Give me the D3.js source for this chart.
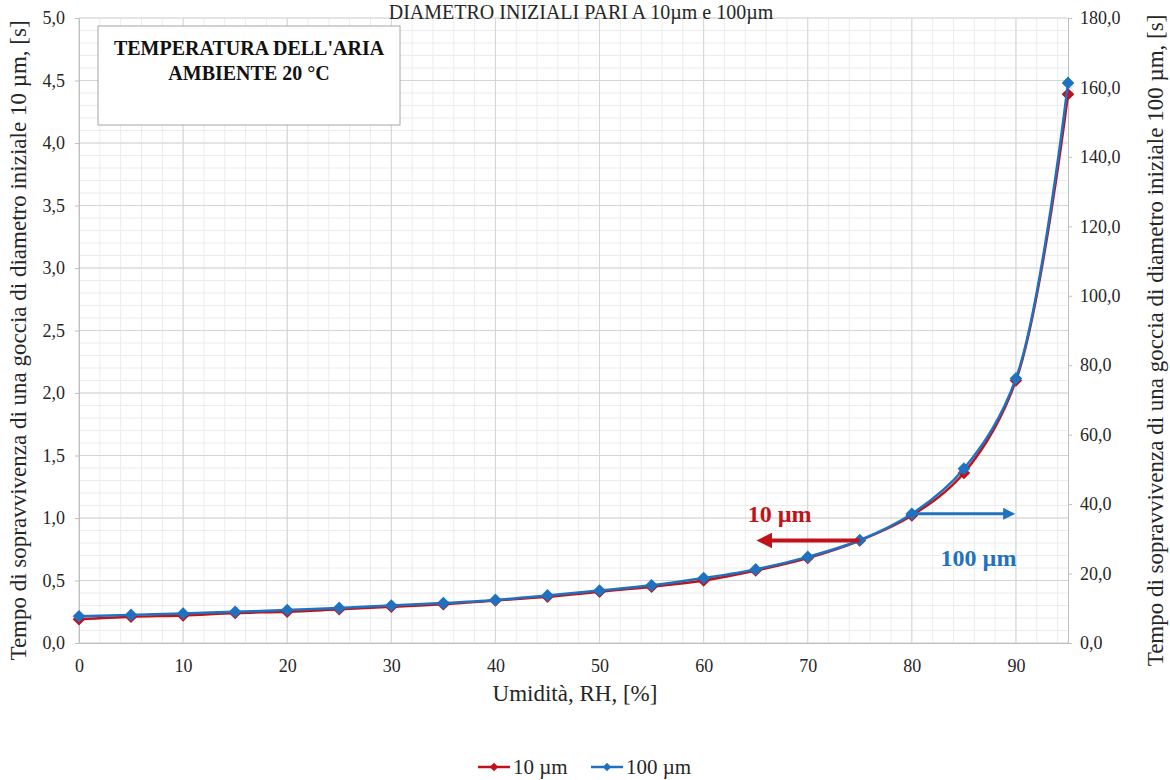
<!DOCTYPE html>
<html><head><meta charset="utf-8">
<script src="https://cdn.jsdelivr.net/npm/d3@7"></script>
<style>html,body{margin:0;padding:0;background:#fff;} svg{display:block;} svg text{font-family:"Liberation Serif","Times New Roman",serif;}</style>
</head><body>
<svg id="c" width="1170" height="780"></svg>
<script>
const rh = [0,5,10,15,20,25,30,35,40,45,50,55,60,65,70,75,80,85,90,95];
const t10 = [0.19,0.21,0.22,0.24,0.25,0.27,0.29,0.31,0.34,0.37,0.41,0.45,0.50,0.58,0.68,0.82,1.02,1.36,2.10,4.39];
const t100 = [7.7,8.1,8.5,9.0,9.5,10.1,10.8,11.5,12.4,13.7,15.1,16.6,18.7,21.2,24.8,29.6,37.2,50.2,76.2,161.3];
const xTicks = [0,10,20,30,40,50,60,70,80,90];
const yLeftTicks = [0,0.5,1,1.5,2,2.5,3,3.5,4,4.5,5];
const yRightTicks = [0,20,40,60,80,100,120,140,160,180];
const seriesNames = ["10 µm","100 µm"];
const colors = ["#c0121b","#1f72bf"];

const svg = d3.select("#c");
const L=79, R=1068, T=18, B=643;
const x = d3.scaleLinear().domain([0,95]).range([L,R]);
const yL = d3.scaleLinear().domain([0,5]).range([B,T]);
const yR = d3.scaleLinear().domain([0,180]).range([B,T]);
const fmt = d => d3.format(".1f")(d).replace(".",",");
const txtCol = "#262626";

// minor grid
const g = svg.append("g");
d3.range(0,95.001,2).forEach(v=>{ g.append("line").attr("x1",x(v)).attr("x2",x(v)).attr("y1",T).attr("y2",B).attr("stroke","#ececec").attr("stroke-width",1); });
d3.range(0,5.001,0.1).forEach(v=>{ g.append("line").attr("x1",L).attr("x2",R).attr("y1",yL(v)).attr("y2",yL(v)).attr("stroke","#ececec").attr("stroke-width",1); });
// major grid
xTicks.forEach(v=>{ g.append("line").attr("x1",x(v)).attr("x2",x(v)).attr("y1",T).attr("y2",B).attr("stroke","#d4d4d4").attr("stroke-width",1); });
yLeftTicks.forEach(v=>{ g.append("line").attr("x1",L).attr("x2",R).attr("y1",yL(v)).attr("y2",yL(v)).attr("stroke","#d4d4d4").attr("stroke-width",1); });

// title (top of it is clipped in the reference; shown fully here)
svg.append("text").attr("x",581).attr("y",19).attr("text-anchor","middle")
  .attr("font-size",20).attr("fill",txtCol).text("DIAMETRO INIZIALI PARI A 10µm e 100µm");

// axes
const axB = d3.axisBottom(x).tickValues(xTicks).tickSize(0).tickPadding(16);
const axL = d3.axisLeft(yL).tickValues(yLeftTicks).tickFormat(fmt).tickSize(4).tickPadding(10);
const axR = d3.axisRight(yR).tickValues(yRightTicks).tickFormat(fmt).tickSize(4).tickPadding(8);
function style(sel){ sel.attr("font-family",null).attr("font-size",null);
  sel.select(".domain").attr("stroke","#bfbfbf");
  sel.selectAll(".tick line").attr("stroke","#bfbfbf");
  sel.selectAll("text").style("font-family","'Liberation Serif',serif").style("font-size","18px").attr("fill",txtCol); }
svg.append("g").attr("transform",`translate(0,${B})`).call(axB).call(style);
svg.append("g").attr("transform",`translate(${L},0)`).call(axL).call(style);
svg.append("g").attr("transform",`translate(${R},0)`).call(axR).call(style);

// axis titles
svg.append("text").attr("x",575).attr("y",701).attr("text-anchor","middle").attr("font-size",23).attr("fill",txtCol).text("Umidità, RH, [%]");
svg.append("text").attr("transform",`translate(26,${(T+B)/2+10}) rotate(-90)`).attr("text-anchor","middle").attr("font-size",23).attr("fill",txtCol)
  .text("Tempo di sopravvivenza di una goccia di diametro iniziale 10 µm, [s]");
svg.append("text").attr("transform",`translate(1163,${(T+B)/2+10}) rotate(-90)`).attr("text-anchor","middle").attr("font-size",23).attr("fill",txtCol)
  .text("Tempo di sopravvivenza di una goccia di diametro iniziale 100 µm, [s]");

// text box
svg.append("rect").attr("x",98).attr("y",26).attr("width",302).attr("height",99).attr("fill","#fff").attr("stroke","#a6a6a6").attr("stroke-width",1);
svg.append("text").attr("x",249).attr("y",55).attr("text-anchor","middle").attr("font-size",20).attr("font-weight","bold").attr("fill","#111").text("TEMPERATURA DELL'ARIA");
svg.append("text").attr("x",249).attr("y",80).attr("text-anchor","middle").attr("font-size",20).attr("font-weight","bold").attr("fill","#111").text("AMBIENTE 20 °C");

// series
const d1 = rh.map((v,i)=>[x(v),yL(t10[i])]);
const d2 = rh.map((v,i)=>[x(v),yR(t100[i])]);
const line = d3.line().curve(d3.curveCatmullRom.alpha(0.5));
const diamond = d3.symbol().type(d3.symbolSquare).size(80);
[[d1,colors[0]],[d2,colors[1]]].forEach(([d,c])=>{
  svg.append("path").attr("d",line(d)).attr("fill","none").attr("stroke",c).attr("stroke-width",2.5);
  svg.append("g").selectAll("path").data(d).join("path").attr("d",diamond).attr("transform",p=>`translate(${p[0]},${p[1]}) rotate(45)`).attr("fill",c);
});

// annotations (arrows)
const defs = svg.append("defs");
colors.forEach((c,i)=>{ defs.append("marker").attr("id","ah"+i).attr("viewBox","0 0 10 10").attr("refX",2).attr("refY",5)
  .attr("markerWidth",4).attr("markerHeight",4).attr("orient","auto").append("path").attr("d","M0,0L10,5L0,10z").attr("fill",c); });
svg.append("line").attr("x1",x(75)).attr("y1",yL(t10[15])).attr("x2",x(66.3)).attr("y2",yL(t10[15])).attr("stroke",colors[0]).attr("stroke-width",4).attr("marker-end","url(#ah0)");
svg.append("line").attr("x1",x(80)).attr("y1",yR(t100[16])).attr("x2",x(89.0)).attr("y2",yR(t100[16])).attr("stroke",colors[1]).attr("stroke-width",3).attr("marker-end","url(#ah1)");
svg.append("text").attr("x",x(67.3)).attr("y",yL(1.0)+4).attr("text-anchor","middle").attr("font-size",24).attr("font-weight","bold").attr("fill",colors[0]).text("10 µm");
svg.append("text").attr("x",x(86.4)).attr("y",yL(0.63)+2).attr("text-anchor","middle").attr("font-size",24).attr("font-weight","bold").attr("fill",colors[1]).text("100 µm");

// legend
const lg = svg.append("g");
const legDiamond = d3.symbol().type(d3.symbolSquare).size(36);
[[478,seriesNames[0],colors[0]],[591,seriesNames[1],colors[1]]].forEach(([lx,t,c])=>{
  lg.append("line").attr("x1",lx).attr("x2",lx+32).attr("y1",767).attr("y2",767).attr("stroke",c).attr("stroke-width",2.5);
  lg.append("path").attr("d",legDiamond).attr("transform",`translate(${lx+16},767) rotate(45)`).attr("fill",c);
  lg.append("text").attr("x",lx+35).attr("y",774).attr("font-size",21).attr("fill",txtCol).text(t);
});
</script>
</body></html>
